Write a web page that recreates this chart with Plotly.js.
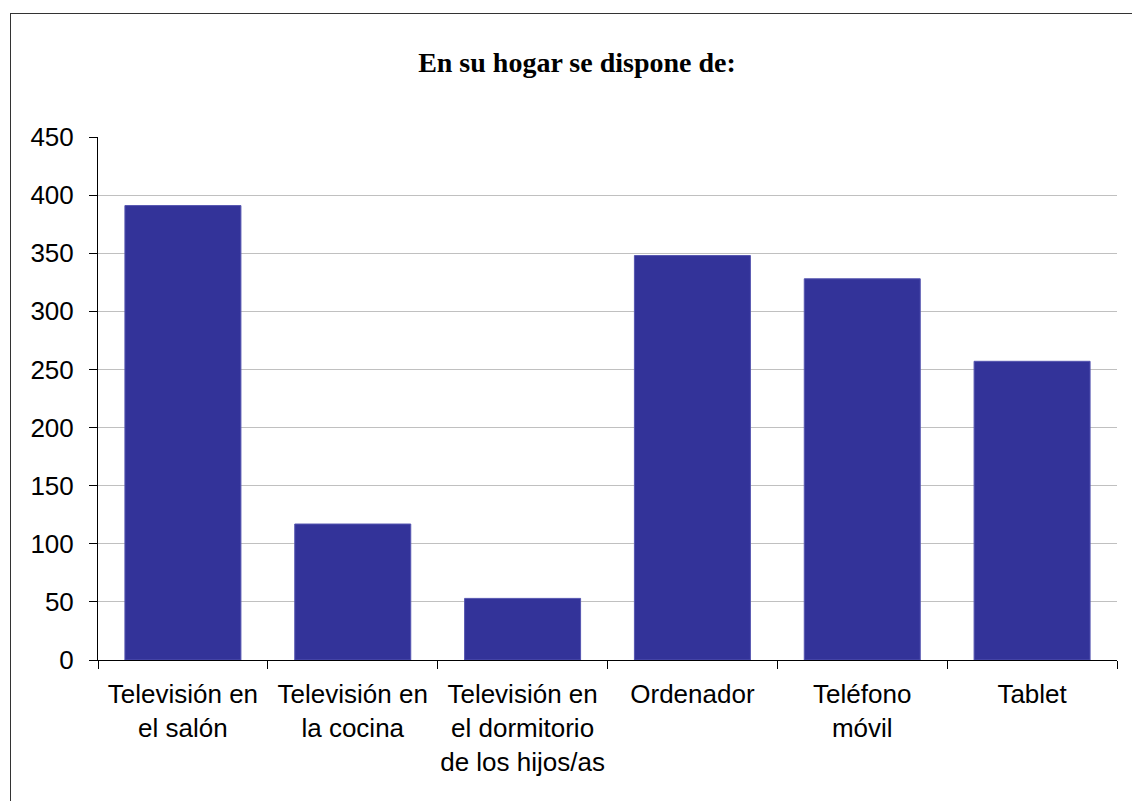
<!DOCTYPE html>
<html>
<head>
<meta charset="utf-8">
<script src="https://cdn.plot.ly/plotly-3.0.1.min.js"></script>
<style>
html,body{margin:0;padding:0;background:#fff;overflow:hidden;}
#frame{position:absolute;left:10px;top:13px;width:1140px;height:800px;border:1px solid #333;box-sizing:border-box;}
#chart{position:absolute;left:0;top:0;width:1132px;height:801px;}
</style>
</head>
<body>
<div id="frame"></div>
<div id="chart"></div>
<script>
const categories = ["Televisión en<br>el salón", "Televisión en<br>la cocina", "Televisión en<br>el dormitorio<br>de los hijos/as", "Ordenador", "Teléfono<br>móvil", "Tablet"];
const values = [391, 117, 53, 348, 328, 257];
const yTicks = [0, 50, 100, 150, 200, 250, 300, 350, 400, 450];

const trace = {
  type: 'bar',
  x: categories,
  y: values,
  marker: {color: '#333399', line: {color: '#5555b0', width: 1}},
  hoverinfo: 'none'
};

const layout = {
  width: 1132, height: 801,
  margin: {l: 98, r: 15, t: 137, b: 141},
  paper_bgcolor: 'rgba(0,0,0,0)',
  plot_bgcolor: 'rgba(0,0,0,0)',
  bargap: 0.317,
  showlegend: false,
  title: {text: 'En su hogar se dispone de:', font: {family: 'Liberation Serif, Times New Roman, serif', size: 28, color: '#000', weight: 'bold'}, x: 0.5097, xanchor: 'center', xref: 'container', y: 0.922, yanchor: 'middle'},
  font: {family: 'Liberation Sans, Arial, sans-serif', size: 26, color: '#000'},
  xaxis: {
    showline: true, linecolor: '#000', linewidth: 1,
    ticks: 'outside', tickson: 'boundaries', ticklen: 8, tickcolor: '#000',
    tickfont: {size: 26}, tickangle: 0, showgrid: false, fixedrange: true, ticklabelstandoff: 11
  },
  yaxis: {
    range: [0, 450], tickvals: yTicks, ticktext: yTicks.map(String),
    showline: true, linecolor: '#000', linewidth: 1,
    ticks: 'outside', ticklen: 8, tickcolor: '#000',
    gridcolor: '#c0c0c0', gridwidth: 1, zeroline: false,
    tickfont: {size: 26}, ticklabelstandoff: 10, fixedrange: true
  }
};

Plotly.newPlot('chart', [trace], layout, {displayModeBar: false, staticPlot: true});
</script>
</body>
</html>
